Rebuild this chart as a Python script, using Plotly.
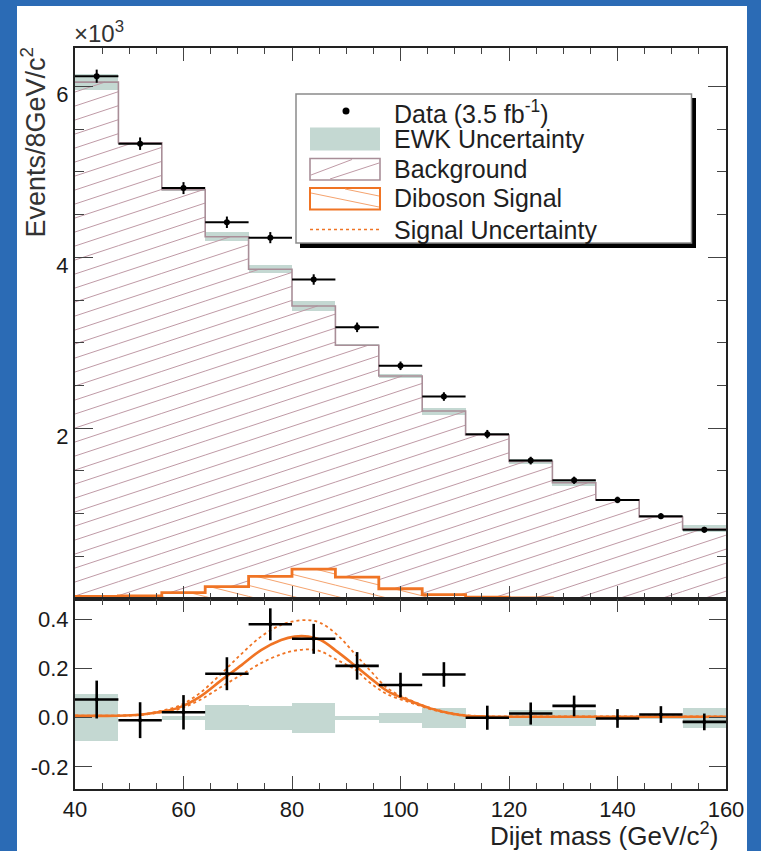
import math
import plotly.graph_objects as go

# ---------------- data ----------------
edges = [40, 48, 56, 64, 72, 80, 88, 96, 104, 112, 120, 128, 136, 144, 152, 160]
centers = [44, 52, 60, 68, 76, 84, 92, 100, 108, 116, 124, 132, 140, 148, 156]
half_width = [4] * 15

# top panel, in units of 10^3 events / 8 GeV
data_k = [6.12, 5.33, 4.81, 4.41, 4.23, 3.74, 3.18, 2.73, 2.37, 1.93, 1.62, 1.39, 1.16, 0.97, 0.81]
data_err = [0.077, 0.073, 0.070, 0.067, 0.065, 0.061, 0.056, 0.050, 0.050, 0.049, 0.045, 0.042, 0.038, 0.034, 0.034]
bkg_k = [6.05, 5.34, 4.79, 4.24, 3.86, 3.43, 2.97, 2.61, 2.20, 1.92, 1.61, 1.36, 1.16, 0.96, 0.82]
ewk_err = [0.095, 0.0, 0.008, 0.051, 0.048, 0.061, 0.008, 0.021, 0.041, 0.0, 0.032, 0.032, 0.0, 0.003, 0.041]
sig_k = [0.030, 0.035, 0.075, 0.145, 0.265, 0.350, 0.255, 0.120, 0.052, 0.022, 0.012, 0.008, 0.006, 0.005, 0.005]

# bottom panel: data - background (10^3 events)
resid = [0.074, -0.010, 0.022, 0.179, 0.380, 0.321, 0.211, 0.133, 0.176, 0.000, 0.017, 0.048, -0.003, 0.013, -0.017]

curve_x = [40, 48, 52, 55, 59, 63, 67, 70.7, 74.3, 78, 80.5, 83, 85.3, 88.4, 91.5, 94.5, 97.6,
           101.8, 105.5, 109.1, 112.2, 116, 120, 130, 140, 150, 160]
curve_mid = [0.008, 0.008, 0.012, 0.021, 0.040, 0.085, 0.153, 0.214, 0.275, 0.316, 0.330, 0.330, 0.316,
             0.268, 0.214, 0.160, 0.108, 0.068, 0.038, 0.018, 0.008, 0.005, 0.004, 0.004, 0.004, 0.004, 0.004]
curve_hi = [0.008, 0.009, 0.013, 0.024, 0.047, 0.100, 0.180, 0.260, 0.330, 0.378, 0.393, 0.397, 0.385,
            0.336, 0.262, 0.190, 0.120, 0.072, 0.040, 0.020, 0.010, 0.006, 0.005, 0.005, 0.005, 0.005, 0.005]
curve_lo = [0.008, 0.008, 0.011, 0.019, 0.034, 0.072, 0.126, 0.175, 0.222, 0.258, 0.273, 0.278, 0.270,
            0.234, 0.198, 0.140, 0.095, 0.062, 0.035, 0.016, 0.007, 0.004, 0.003, 0.003, 0.003, 0.003, 0.003]

x_ticks = [40, 60, 80, 100, 120, 140, 160]
y1_ticks = [2, 4, 6]
y2_ticks = [-0.2, 0.0, 0.2, 0.4]
y2_ticktext = ["-0.2", "0.0", "0.2", "0.4"]

# ---------------- geometry ----------------
W, H = 761, 851
ML, MR, MT, MB = 75, 35, 48, 62
PW = W - ML - MR
PH = H - MT - MB
BOT_H = 190
TOP_H = PH - BOT_H
split = BOT_H / PH
XR = [40, 160]
Y1R = [0, 6.45]
Y2R = [-0.29, 0.483]

FONT = "Liberation Sans, Arial, Helvetica, sans-serif"
GREEN = "#c4d8d2"
MAUVE = "#a98e98"
HATCH = "#bf9aa6"
ORANGE = "#f07424"
ORANGE_L = "#f5a36e"


def xpx(x):
    return (x - XR[0]) * PW / (XR[1] - XR[0])


def ypx(y):
    return (y - Y1R[0]) * TOP_H / (Y1R[1] - Y1R[0])


def xdat(p):
    return XR[0] + p * (XR[1] - XR[0]) / PW


def ydat(p):
    return Y1R[0] + p * (Y1R[1] - Y1R[0]) / TOP_H


def hatch(lo, hi, slope, step, phase):
    """hatch-line segments (fill style) clipped to a step histogram band lo..hi"""
    xs, ys = [], []
    for i in range(len(hi)):
        a, b = xpx(edges[i]), xpx(edges[i + 1])
        yl, yh = ypx(lo[i]), ypx(hi[i])
        if yh - yl < 1:
            continue
        cs = [slope * a, slope * b]
        cmin, cmax = yl - max(cs), yh - min(cs)
        k0 = math.floor((cmin - phase) / step)
        k1 = math.ceil((cmax - phase) / step)
        for k in range(k0, k1 + 1):
            c = phase + k * step
            xa, xb = (yl - c) / slope, (yh - c) / slope
            x0 = max(a, min(xa, xb))
            x1 = min(b, max(xa, xb))
            if x1 - x0 < 0.5:
                continue
            xs += [xdat(x0), xdat(x1), None]
            ys += [ydat(slope * x0 + c), ydat(slope * x1 + c), None]
    return xs, ys


def step_y(vals):
    return list(vals) + [vals[-1]]


fig = go.Figure()

# ---- top panel ----
fig.add_trace(go.Bar(x=centers, y=[2 * e for e in ewk_err], base=[b - e for b, e in zip(bkg_k, ewk_err)],
                     width=8, marker=dict(color=GREEN, line=dict(width=0)), xaxis="x", yaxis="y",
                     showlegend=False, hoverinfo="skip"))
hx, hy = hatch(sig_k, bkg_k, 0.33, 14.0, 3.0)
fig.add_trace(go.Scatter(x=hx, y=hy, mode="lines", line=dict(color=HATCH, width=1),
                         xaxis="x", yaxis="y", showlegend=False, hoverinfo="skip"))
fig.add_trace(go.Scatter(x=edges, y=step_y(bkg_k), mode="lines", line=dict(color=MAUVE, width=1.6, shape="hv"),
                         xaxis="x", yaxis="y", showlegend=False))
sx, sy = hatch([0] * 15, sig_k, -0.25, 11.0, 2.0)
fig.add_trace(go.Scatter(x=sx, y=sy, mode="lines", line=dict(color=ORANGE_L, width=1),
                         xaxis="x", yaxis="y", showlegend=False, hoverinfo="skip"))
fig.add_trace(go.Scatter(x=edges, y=step_y(sig_k), mode="lines", line=dict(color=ORANGE, width=2.8, shape="hv"),
                         xaxis="x", yaxis="y", showlegend=False))
fig.add_trace(go.Scatter(x=centers, y=data_k, mode="markers",
                         marker=dict(color="black", size=6),
                         error_x=dict(type="data", array=half_width, width=0, thickness=2, color="black"),
                         error_y=dict(type="data", array=data_err, width=0, thickness=2, color="black"),
                         xaxis="x", yaxis="y", showlegend=False))

# ---- bottom panel ----
fig.add_trace(go.Bar(x=centers, y=[2 * e for e in ewk_err], base=[-e for e in ewk_err],
                     width=8, marker=dict(color=GREEN, line=dict(width=0)), xaxis="x2", yaxis="y2",
                     showlegend=False, hoverinfo="skip"))
for cy in (curve_hi, curve_lo):
    fig.add_trace(go.Scatter(x=curve_x, y=cy, mode="lines",
                             line=dict(color=ORANGE, width=1.8, dash="3px,3px", shape="spline"),
                             xaxis="x2", yaxis="y2", showlegend=False))
fig.add_trace(go.Scatter(x=curve_x, y=curve_mid, mode="lines",
                         line=dict(color=ORANGE, width=2.6, shape="spline"),
                         xaxis="x2", yaxis="y2", showlegend=False))
fig.add_trace(go.Scatter(x=centers, y=resid, mode="markers",
                         marker=dict(color="black", size=4),
                         error_x=dict(type="data", array=half_width, width=0, thickness=2.6, color="black"),
                         error_y=dict(type="data", array=data_err, width=0, thickness=2.6, color="black"),
                         xaxis="x2", yaxis="y2", showlegend=False))

# ---------------- layout ----------------
axis_common = dict(showline=True, linecolor="#222", linewidth=2, ticks="inside", tickcolor="#444",
                   tickwidth=1.3, showgrid=False, zeroline=False, mirror="ticks",
                   tickfont=dict(family=FONT, size=22, color="#1a1a1a"))

shapes = []


def P(xp, yp):
    return (xp - ML) / PW, (MT + PH - yp) / PH


# white slide panel
x0, y1_ = P(17, 6)
x1, y0_ = P(747, 851)
shapes.append(dict(type="rect", xref="paper", yref="paper", x0=x0, x1=x1, y0=y0_, y1=y1_,
                   fillcolor="white", line=dict(width=0), layer="below"))


def rect_px(xa, ya, xb, yb, kind="rect", **kw):
    a = P(xa, ya)
    b = P(xb, yb)
    d = dict(type=kind, xref="paper", yref="paper", x0=a[0], x1=b[0], y0=b[1], y1=a[1], layer="above")
    d.update(kw)
    return d


def line_px(xa, ya, xb, yb, **kw):
    a = P(xa, ya)
    b = P(xb, yb)
    d = dict(type="line", xref="paper", yref="paper", x0=a[0], x1=b[0], y0=a[1], y1=b[1], layer="above")
    d.update(kw)
    return d


# legend (drawn by hand)
shapes.append(rect_px(300, 98, 696, 248, fillcolor="black", line=dict(width=0)))
shapes.append(rect_px(296, 94, 691.5, 243, fillcolor="white", line=dict(color="#8a8a8a", width=1.5)))
shapes.append(rect_px(342.5, 107.5, 349.5, 114.5, kind="circle", fillcolor="black", line=dict(width=0)))
shapes.append(rect_px(310, 127.5, 380, 150.5, fillcolor=GREEN, line=dict(width=0)))
shapes.append(rect_px(310, 158.5, 380, 180, fillcolor="white", line=dict(color=MAUVE, width=1.6)))
shapes.append(line_px(311, 175, 352, 159.5, line=dict(color=HATCH, width=1)))
shapes.append(line_px(330, 179, 379, 163, line=dict(color=HATCH, width=1)))
shapes.append(rect_px(310, 188, 380, 209.5, fillcolor="white", line=dict(color=ORANGE, width=2)))
shapes.append(line_px(311, 193, 379, 207, line=dict(color=ORANGE_L, width=1)))
shapes.append(line_px(345, 189, 379, 196, line=dict(color=ORANGE_L, width=1)))
shapes.append(line_px(310, 229.5, 380, 229.5, line=dict(color=ORANGE, width=1.6, dash="3px,3px")))

annotations = []


def text_px(xp, yp, txt, size, xanchor="left", yanchor="middle", angle=0, color="#1f1f1f"):
    xx, yy = P(xp, yp)
    annotations.append(dict(xref="paper", yref="paper", x=xx, y=yy, text=txt, showarrow=False,
                            xanchor=xanchor, yanchor=yanchor, textangle=angle, borderpad=0,
                            font=dict(family=FONT, size=size, color=color)))


legend_rows = [("Data (3.5 fb<sup>-1</sup>)", 112.5), ("EWK Uncertainty", 139), ("Background", 168.7),
               ("Diboson Signal", 198.3), ("Signal Uncertainty", 230)]
for t, yy in legend_rows:
    text_px(393, yy, t, 25)

text_px(73, 48, "×10<sup>3</sup>", 24, yanchor="bottom", color="#333")
text_px(34, 46, "Events/8GeV/c<sup>2</sup>", 27, xanchor="center", yanchor="top", angle=-90, color="#333")
text_px(719, 835, "Dijet mass (GeV/c<sup>2</sup>)", 26, xanchor="right", yanchor="middle", color="#222")

fig.update_layout(
    width=W, height=H,
    margin=dict(l=ML, r=MR, t=MT, b=MB, pad=0),
    paper_bgcolor="#2b6bb5", plot_bgcolor="white",
    barmode="overlay", bargap=0,
    showlegend=False,
    font=dict(family=FONT),
    xaxis=dict(domain=[0, 1], anchor="y", range=XR, tickvals=x_ticks, showticklabels=False,
               ticklen=13, minor=dict(dtick=5, ticklen=6, ticks="inside", tickcolor="#444"), **axis_common),
    yaxis=dict(domain=[split, 1], anchor="x", range=Y1R, tickvals=y1_ticks, ticktext=[str(v) for v in y1_ticks],
               ticklen=18, minor=dict(dtick=0.5, ticklen=9, ticks="inside", tickcolor="#444"),
               ticklabelshift=8, **axis_common),
    xaxis2=dict(domain=[0, 1], anchor="y2", range=XR, tickvals=x_ticks, ticktext=[str(v) for v in x_ticks],
                ticklen=13, minor=dict(dtick=5, ticklen=6, ticks="inside", tickcolor="#444"),
                **axis_common),
    yaxis2=dict(domain=[0, split], anchor="x2", range=Y2R, tickvals=y2_ticks, ticktext=y2_ticktext,
                ticklen=17, **axis_common),
    shapes=shapes,
    annotations=annotations,
)

fig.write_html("out.html", config={"displayModeBar": False},
               post_script="document.body.style.margin='0';document.body.style.overflow='hidden';")
